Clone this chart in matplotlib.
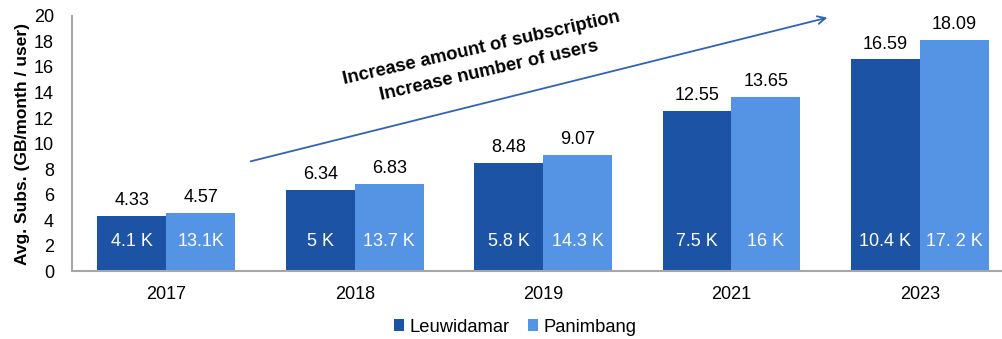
import matplotlib.pyplot as plt
import numpy as np

plt.rcParams['font.family'] = ['Liberation Sans', 'DejaVu Sans']

years = ["2017", "2018", "2019", "2021", "2023"]
leuwidamar = [4.33, 6.34, 8.48, 12.55, 16.59]
panimbang = [4.57, 6.83, 9.07, 13.65, 18.09]
leuwidamar_users = ["4.1 K", "5 K", "5.8 K", "7.5 K", "10.4 K"]
panimbang_users = ["13.1K", "13.7 K", "14.3 K", "16 K", "17. 2 K"]

dark = "#1c53a4"
light = "#5594e4"
fs = 13

fig = plt.figure(figsize=(10.02, 3.39), dpi=100)
ax = fig.add_axes([0.072, 0.2, 0.940, 0.753])

x = np.arange(len(years))
w = 0.366
b1 = ax.bar(x - w / 2, leuwidamar, w, color=dark, label="Leuwidamar")
b2 = ax.bar(x + w / 2, panimbang, w, color=light, label="Panimbang")

# values on top, user counts inside the bars
for bars, vals, users in [(b1, leuwidamar, leuwidamar_users), (b2, panimbang, panimbang_users)]:
    for rect, v, u in zip(bars, vals, users):
        cx = rect.get_x() + rect.get_width() / 2
        ax.annotate(f"{v:.2f}", (cx, v), xytext=(0, 5), textcoords="offset points",
                    ha="center", va="bottom", fontsize=fs)
        ax.text(cx, 2.35, u, ha="center", va="center", color="white", fontsize=fs)

ax.set_xlim(-0.5, len(years) - 0.5)
ax.set_ylim(0, 20)
ax.set_yticks(range(0, 21, 2))
ax.set_xticks(x)
ax.set_xticklabels(years)
ax.tick_params(axis="both", length=0, labelsize=fs)
ax.tick_params(axis="y", pad=13)
ax.tick_params(axis="x", pad=11)
ax.set_ylabel("Avg. Subs. (GB/month / user)", fontsize=12.5, fontweight="bold", labelpad=3)

for s in ["top", "right"]:
    ax.spines[s].set_visible(False)
for s in ["left", "bottom"]:
    ax.spines[s].set_color("#a6a6a6")
    ax.spines[s].set_linewidth(1.5)

# trend arrow with its two captions
ax.annotate("", xy=(830, 322), xytext=(248, 177), xycoords="figure pixels",
            textcoords="figure pixels",
            arrowprops=dict(arrowstyle="->", color="#2e63b8", lw=1.3, mutation_scale=14))
fig.text(481 / 1002, 1 - 48 / 339, "Increase amount of subscription", rotation=12.8,
         ha="center", va="center", fontsize=13.2, fontweight="bold")
fig.text(489 / 1002, 1 - 71 / 339, "Increase number of users", rotation=12.8,
         ha="center", va="center", fontsize=13.2, fontweight="bold")

fig.legend(loc="center", bbox_to_anchor=(0.514, 1 - 327 / 339), ncol=2, frameon=False,
           fontsize=13.2, handlelength=0.55, handleheight=0.55, handletextpad=0.3,
           columnspacing=1.0)

fig.savefig("out.png", dpi=100)
